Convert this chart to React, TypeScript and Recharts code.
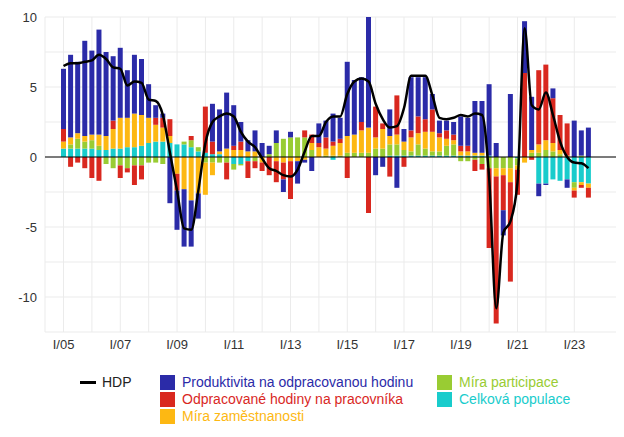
import { ComposedChart, Bar, Line, XAxis, YAxis, CartesianGrid, ReferenceLine } from 'recharts'

const romans = ['I', 'II', 'III', 'IV']
const quarters: string[] = []
for (let y = 5; y <= 23; y++) {
    for (let q = 0; q < 4; q++) {
        if (y === 23 && q > 2) break
        quarters.push(romans[q] + '/' + String(y).padStart(2, '0'))
    }
}

const hdp = [6.5, 6.7, 6.7, 6.8, 6.9, 7.3, 7.0, 6.4, 6.3, 5.1, 5.4, 5.3, 4.1, 4.0, 3.0, 0.3, -2.4, -5.1, -5.2, -2.4,
    1.0, 2.5, 2.9, 3.1, 2.9, 1.8, 1.1, 0.7, -0.1, -0.8, -1.0, -1.3, -1.4, -0.9, 0.4, 1.5, 1.5, 2.5, 2.9, 2.9,
    4.5, 5.4, 5.6, 5.4, 3.8, 2.7, 2.1, 2.2, 3.5, 5.8, 5.8, 5.8, 4.4, 2.8, 2.7, 2.8, 3.0, 2.9, 3.1, 3.0,
    -1.5, -10.8, -5.4, -4.6, -1.8, 9.2, 3.7, 3.4, 4.6, 3.0, 1.1, 0.0, -0.4, -0.45, -0.8]

const produktivita = [4.3, 5.9, 5.1, 6.8, 6.0, 7.5, 6.0, 4.6, 5.0, 3.4, 4.2, 4.0, 2.4, 0.9, 0.3, -3.3, -2.8, -4.1, -3.3, -1.8,
    0, 2.7, 3.0, 4.0, 2.9, 1.4, 0.8, 1.5, 1.0, 0.6, 0.9, -0.9, 0.4, -1.6, -0.2, -1.0, 1.4, 1.2, 2.0, 1.5,
    5.3, 3.9, 3.2, 7.9, -1.3, -0.7, 1.9, -2.2, 0.9, 3.8, 2.8, 3.0, 1.1, 0.9, 0.7, 0.9, 2.1, 2.0, 3.7, 3.7,
    5.1, 1.0, -1.8, 4.5, 0, 3.7, 3.8, -0.9, -0.1, 0.7, 0, -0.6, 2.6, 1.8, 2.1]

const hodiny = [0.9, -0.7, -0.4, -0.8, -1.5, -1.7, 0, 0.6, -0.9, -0.3, -1.4, -1.0, 0, 0.5, 0.7, 1.2, -1.2, 0, 0.3, 0,
    3.3, 0.9, 0, -1.2, 0.3, 0.6, -1.2, -0.5, -0.6, -1.3, -1.5, -1.2, -2.7, 0, 0.5, 0.6, 0.3, 0.8, 0.3, 0.3,
    -1.5, 0, 0.6, -4.0, 2.2, 0.4, -1.4, 2.8, -0.7, 0.5, 1.2, 0.9, 1.6, 0.3, 0.6, 0.4, 0.4, 0.4, -0.8, -0.4,
    -5.7, -10.5, -2.5, -7.1, -1.8, 6.0, -0.2, 5.3, 5.4, 3.2, 2.5, 2.3, -0.5, -0.2, -0.7]

const zamestnanost = [0.5, 0.5, 0.4, 0.4, 0.4, 0.8, 1.0, 1.4, 2.2, 2.1, 2.4, 2.2, 1.8, 1.2, 1.0, 0.5, -1.2, -2.3, -3.1, -2.6,
    -2.3, -0.9, 0.2, 0.6, 0.5, 0.5, 0.4, 0.4, -0.4, 0, -0.3, -0.4, -0.3, -0.3, -0.2, 0.5, 0.7, 0.5, 0.7, 0.9,
    1.2, 1.3, 1.6, 1.8, 0.8, 1.4, 0.6, 0.7, 0.6, 1.0, 0.8, 1.2, 1.4, 1.0, 0.5, 0.3, 0.3, 0.3, 0.2, 0.2,
    0, -0.6, -0.5, -1.0, -0.3, -0.4, 0.2, 0.6, 0.7, 0.6, 0.3, 0.1, -0.2, -0.2, -0.3]

const participace = [0, 0.3, 0.7, 0.5, 0.6, 0.3, -0.5, -0.8, -0.6, -0.8, -0.6, -0.6, -0.4, -0.4, -0.5, 0, 0, 0.2, 0.5, 0.3,
    -0.4, -0.4, -0.4, -0.4, -0.4, -0.1, 0, -0.3, 0, 0.2, 1.0, 1.3, 1.4, 1.4, 1.4, 0.5, 0, 0.1, 0.1, 0.1,
    0.3, 0.3, 0.3, 0.3, 0.6, 0.6, 0.8, 0.8, 0.4, 0.3, 0.8, 0.5, 0.3, 0.3, 0.7, 0.8, -0.3, -0.3, -0.2, -0.5,
    -0.8, -0.8, -0.8, -0.8, -0.5, 0, 0.3, 0.3, 0.5, 0.4, 0.2, 0, -0.4, 0.1, 0]

const populace = [0.6, 0.6, 0.6, 0.6, 0.6, 0.5, 0.5, 0.6, 0.6, 0.7, 0.7, 0.8, 1.0, 1.1, 1.1, 1.0, 0.9, 0.9, 0.7, 0.4,
    0.3, 0.2, 0.2, 0, -0.5, -0.5, -0.3, 0, 0, 0, 0, 0, 0, 0, 0, 0, 0, 0, -0.2, 0,
    0, 0, 0, 0, 0, 0, 0.1, 0.1, 0.1, 0.1, 0.1, 0.1, 0.1, 0.1, 0.1, 0.1, 0.1, 0.1, 0.1, 0.1,
    0.1, 0, 0, 0, -0.1, 0, 0, -1.9, -1.9, -1.6, -1.7, -1.6, -1.8, -1.8, -1.9]

const data = quarters.map((q, i) => ({
    q,
    hdp: hdp[i],
    produktivita: produktivita[i],
    hodiny: hodiny[i],
    zamestnanost: zamestnanost[i],
    participace: participace[i],
    populace: populace[i],
}))

const yearTicks = quarters.filter(q => q.startsWith('I/'))
const yTicks = [-12.5, -10, -7.5, -5, -2.5, 0, 2.5, 5, 7.5, 10]

const colors = {
    produktivita: '#2b2ba8',
    hodiny: '#d9281f',
    zamestnanost: '#fdb813',
    participace: '#99cc33',
    populace: '#19cccc',
}

const font = 'Liberation Sans, Arial, sans-serif'

const legendItems = [
    { label: 'Produktivita na odpracovanou hodinu', color: colors.produktivita, left: 152, top: 366 },
    { label: 'Odpracované hodiny na pracovníka', color: colors.hodiny, left: 152, top: 383 },
    { label: 'Míra zaměstnanosti', color: colors.zamestnanost, left: 152, top: 400 },
    { label: 'Míra participace', color: colors.participace, left: 429, top: 366 },
    { label: 'Celková populace', color: colors.populace, left: 429, top: 383 },
]

export default function App () {
    return (
        <div style={{ position: 'relative', width: 616, height: 421, fontFamily: font }}>
            <ComposedChart
                width={616}
                height={360}
                data={data}
                stackOffset="sign"
                barCategoryGap="14%"
                margin={{ top: 9, right: 6, bottom: 11, left: 0 }}
            >
                <CartesianGrid stroke="#ebebeb" vertical={true} />
                <XAxis
                    dataKey="q"
                    ticks={yearTicks}
                    interval={0}
                    tickFormatter={(v: string) => (parseInt(v.slice(2)) % 2 === 1 ? v : '')}
                    axisLine={false}
                    tickLine={false}
                    height={25}
                    padding={{ left: 15, right: 26 }}
                    tick={{ fill: '#333', fontSize: 13, fontFamily: font }}
                />
                <YAxis
                    domain={[-12.5, 10]}
                    ticks={yTicks}
                    interval={0}
                    tickFormatter={(v: number) => (v % 5 === 0 ? String(v) : '')}
                    axisLine={false}
                    tickLine={false}
                    width={37}
                    tick={{ fill: '#333', fontSize: 13, fontFamily: font }}
                />
                <Bar dataKey="populace" stackId="a" fill={colors.populace} isAnimationActive={false} />
                <Bar dataKey="participace" stackId="a" fill={colors.participace} isAnimationActive={false} />
                <Bar dataKey="zamestnanost" stackId="a" fill={colors.zamestnanost} isAnimationActive={false} />
                <Bar dataKey="hodiny" stackId="a" fill={colors.hodiny} isAnimationActive={false} />
                <Bar dataKey="produktivita" stackId="a" fill={colors.produktivita} isAnimationActive={false} />
                <ReferenceLine y={0} stroke="#000" strokeWidth={1} />
                <Line dataKey="hdp" type="monotone" stroke="#000" strokeWidth={2.5} dot={false} isAnimationActive={false} />
            </ComposedChart>
            <div style={{ position: 'absolute', left: 72, top: 366, display: 'flex', alignItems: 'center', fontSize: 14, color: '#222' }}>
                <span style={{ display: 'inline-block', width: 16, height: 3, background: '#000', marginRight: 6 }} />
                HDP
            </div>
            {legendItems.map(it => (
                <div key={it.label} style={{ position: 'absolute', left: it.left, top: it.top, display: 'flex', alignItems: 'center', fontSize: 14, color: it.color, whiteSpace: 'nowrap' }}>
                    <span style={{ display: 'inline-block', width: 15, height: 15, background: it.color, marginRight: 7 }} />
                    {it.label}
                </div>
            ))}
        </div>
    )
}
